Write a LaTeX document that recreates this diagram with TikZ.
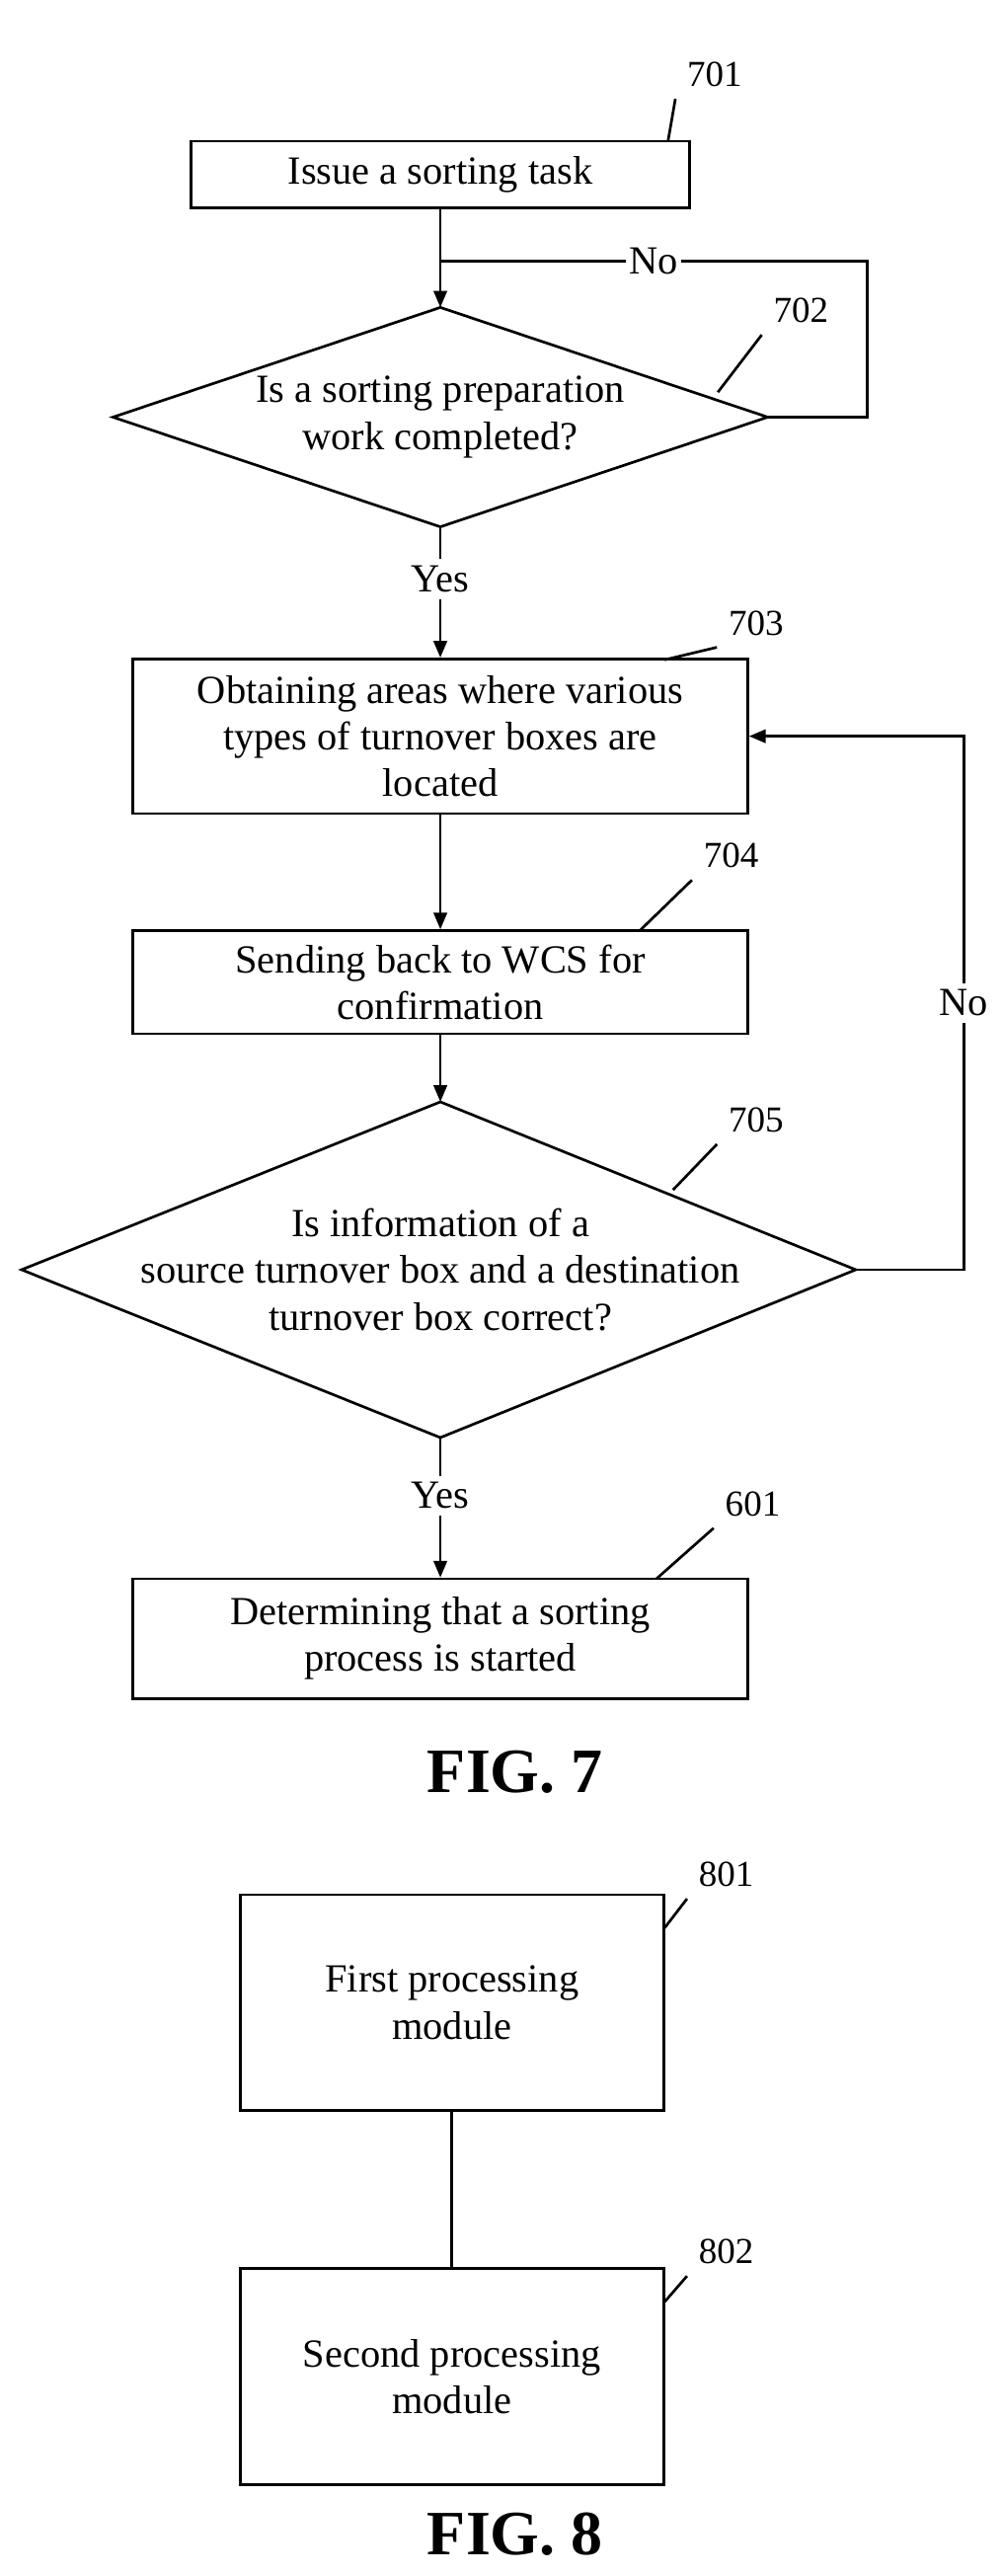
\documentclass[tikz,border=0pt]{standalone}
\usepackage{fontspec}
\setmainfont{Liberation Serif}
\usetikzlibrary{arrows.meta}
\usetikzlibrary{positioning}
\usetikzlibrary{shapes.geometric}
\begin{document}
\begin{tikzpicture}[x=0.5pt,y=-0.5pt,
  every node/.style={font=\fontsize{12}{14}\selectfont},
  step box/.style={draw, thick, rectangle, align=center, inner sep=0pt},
  ref label/.style={font=\fontsize{11}{13}\selectfont},
  flow/.style={thick, -{Triangle[length=5pt,width=4pt]}},
  fig label/.style={font=\fontsize{19}{22}\bfseries\selectfont},
]
\useasboundingbox (0,0) rectangle (603,1550);
% FIG. 7
\node[step box, minimum width=150pt, minimum height=20pt] (issue) at (265,105) {Issue a sorting task};
\coordinate (prep-n) at (265,185); \coordinate (prep-s) at (265,317);
\coordinate (prep-w) at (68,251);  \coordinate (prep-e) at (462,251);
\draw[thick] (prep-n) -- (prep-e) -- (prep-s) -- (prep-w) -- cycle;
\node[align=center] (prep) at (265,251) {Is a sorting preparation\\work completed?};
\node[step box, minimum width=185pt, minimum height=46.5pt] (areas) at (265,443) {Obtaining areas where various\\types of turnover boxes are\\located};
\node[step box, minimum width=185pt, minimum height=31pt] (wcs) at (265,591) {Sending back to WCS for\\confirmation};
\coordinate (check-n) at (265,663); \coordinate (check-s) at (265,865);
\coordinate (check-w) at (13,764);  \coordinate (check-e) at (515,764);
\draw[thick] (check-n) -- (check-e) -- (check-s) -- (check-w) -- cycle;
\node[align=center] (check) at (265,764) {Is information of a\\source turnover box and a destination\\turnover box correct?};
\node[step box, minimum width=185pt, minimum height=36pt] (start) at (265,986) {Determining that a sorting\\process is started};
\coordinate (loopa) at (265,157);
\coordinate (loopb) at (580,443);
\draw[flow] (issue) -- (prep-n);
\draw[thick] (prep-e) -- ++(60,0) |- node[pos=0.75, fill=white, inner sep=1pt] {No} (loopa);
\draw[thick] (prep-s) -- node[fill=white, inner sep=2pt] {Yes} (265,380);
\draw[flow] (265,370) -- (areas);
\draw[flow] (areas) -- (wcs);
\draw[flow] (wcs) -- (check-n);
\draw[flow] (check-e) -| node[pos=0.75, fill=white, inner sep=2pt] {No} (loopb) -- (areas.east);
\draw[thick] (check-s) -- node[fill=white, inner sep=2pt] {Yes} (265,935);
\draw[flow] (265,925) -- (start);
\node[fig label] (fig7) at (310,1066) {FIG. 7};
% FIG. 8
\node[step box, minimum width=127.5pt, minimum height=65pt] (first) at (272,1205) {First processing\\module};
\node[step box, minimum width=127.5pt, minimum height=65pt] (second) at (272,1430) {Second processing\\module};
\draw[thick] (first) -- (second);
\node[fig label] (fig8) at (310,1525) {FIG. 8};
% reference numerals
\foreach \txt/\lx/\ly/\ax/\ay in {
  701/430/45/402/85,
  702/482/187/432/236,
  703/455/375/400/397,
  704/440/515/385/560,
  705/455/674/405/716,
  601/453/905/395/950,
  801/437/1128/400/1160,
  802/437/1355/400/1385}{
  \node[ref label] (ref\txt) at (\lx,\ly) {\txt};
  \draw[thick] (\ax,\ay) -- (ref\txt.south west);
}
\end{tikzpicture}
\end{document}
